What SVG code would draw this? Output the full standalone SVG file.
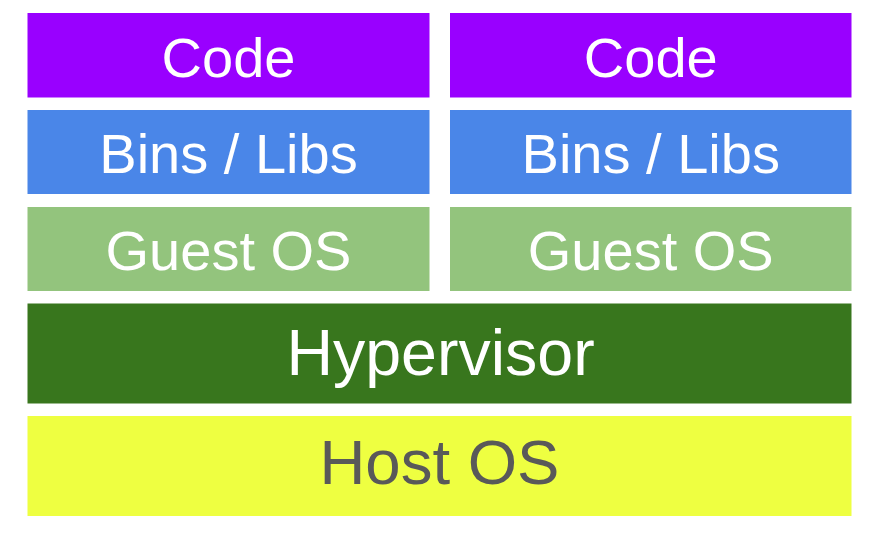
<svg xmlns="http://www.w3.org/2000/svg" width="895" height="534" viewBox="0 0 895 534">
  <style>
    text { font-family: "Liberation Sans", Arial, sans-serif; text-anchor: middle; fill: #ffffff; }
    .code { fill: #9900ff; }
    .bins { fill: #4a86e8; }
    .guest { fill: #93c47d; }
    .hyper { fill: #38761d; }
    .host { fill: #eeff41; }
    .small { font-size: 56px; }
    .big { font-size: 64.5px; }
  </style>
  <rect width="895" height="534" fill="#ffffff"/>

  <!-- left stack -->
  <g id="code-left">
    <rect class="code" x="27.5" y="13" width="402" height="84.5"/>
    <text class="small" x="228.5" y="77">Code</text>
  </g>
  <g id="bins-left">
    <rect class="bins" x="27.5" y="110" width="402" height="84"/>
    <text class="small" x="228.5" y="173">Bins / Libs</text>
  </g>
  <g id="guest-left">
    <rect class="guest" x="27.5" y="207" width="402" height="84"/>
    <text class="small" x="228.5" y="269.5">Guest OS</text>
  </g>

  <!-- right stack -->
  <g id="code-right">
    <rect class="code" x="450" y="13" width="401.5" height="84.5"/>
    <text class="small" x="650.75" y="77">Code</text>
  </g>
  <g id="bins-right">
    <rect class="bins" x="450" y="110" width="401.5" height="84"/>
    <text class="small" x="650.75" y="173">Bins / Libs</text>
  </g>
  <g id="guest-right">
    <rect class="guest" x="450" y="207" width="401.5" height="84"/>
    <text class="small" x="650.75" y="269.5">Guest OS</text>
  </g>

  <!-- shared layers -->
  <g id="hypervisor">
    <rect class="hyper" x="27.5" y="303.5" width="824" height="100"/>
    <text class="big" x="440.5" y="375">Hypervisor</text>
  </g>
  <g id="host-os">
    <rect class="host" x="27.5" y="416" width="824" height="100"/>
    <text x="439.5" y="483.5" style="font-size:63.5px; fill:#595959">Host OS</text>
  </g>

  <g id="connectors"/>
</svg>
